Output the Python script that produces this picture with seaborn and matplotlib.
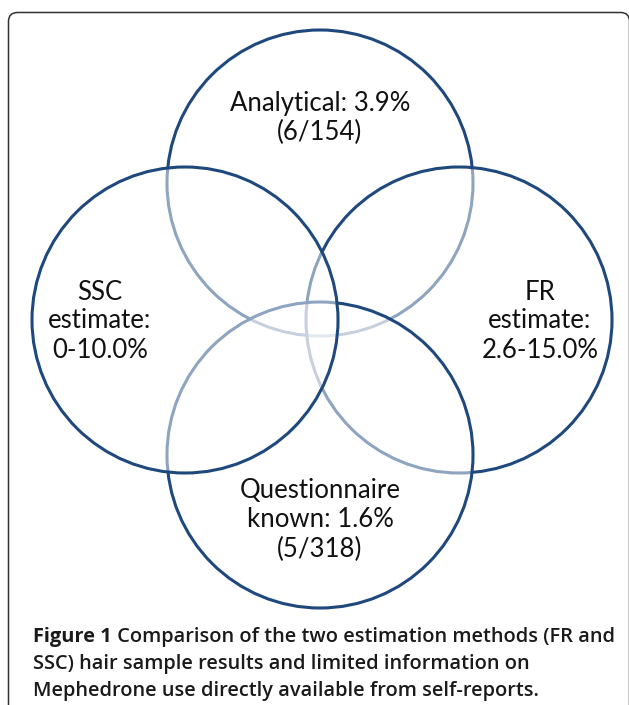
import matplotlib
matplotlib.use("Agg")
import matplotlib.pyplot as plt
import seaborn as sns
from matplotlib.patches import Circle, FancyBboxPatch

# venn labels (order = draw order: top, right, bottom, left)
labels = [
    "Analytical: 3.9%\n(6/154)",
    "FR\nestimate:\n2.6-15.0%",
    "Questionnaire\nknown: 1.6%\n(5/318)",
    "SSC\nestimate:\n0-10.0%",
]
caption_bold = "Figure 1"
caption_lines = [
    " Comparison of the two estimation methods (FR and",
    "SSC) hair sample results and limited information on",
    "Mephedrone use directly available from self-reports.",
]

# layout in pixels
centers = [(320, 183), (459, 320), (320, 455), (185, 320)]
label_pos = [(320, 118), (540, 321), (320, 520), (100, 321)]
radius = 153
navy = "#1f497d"

sns.set_style("white")
plt.rcParams["font.family"] = ["Lato", "DejaVu Sans"]

fig = plt.figure(figsize=(6.29, 7.05), dpi=100)
ax = fig.add_axes([0, 0, 1, 1])
ax.set_xlim(0, 629)
ax.set_ylim(705, 0)
ax.set_axis_off()

# frame (right side runs off the canvas)
frame = FancyBboxPatch((8.5, 12.5), 621, 720,
                       boxstyle="round,pad=0,rounding_size=9",
                       fc="none", ec="#333333", lw=1.1)
ax.add_patch(frame)

for (cx, cy) in centers:
    ax.add_patch(Circle((cx, cy), radius, fc=(1, 1, 1, 0.5), ec=navy, lw=2.2))

for (x, y), txt in zip(label_pos, labels):
    ax.text(x, y, txt, ha="center", va="center", fontsize=18.5,
            color="#111111", linespacing=1.2)

cap_font = ["Open Sans", "DejaVu Sans"]
t = ax.text(33, 637, caption_bold, ha="left", va="center", fontsize=14.4,
            fontweight="bold", family=cap_font, color="#1a1a1a")
ax.annotate(caption_lines[0], xy=(1, 0.5), xycoords=t, ha="left", va="center",
            fontsize=14.4, fontweight="semibold", family=cap_font,
            color="#1a1a1a")
for i, line in enumerate(caption_lines[1:]):
    ax.text(33, 664 + i * 27, line, ha="left", va="center", fontsize=14.4,
            fontweight="semibold", family=cap_font, color="#1a1a1a")

fig.savefig("out.png", dpi=100)
